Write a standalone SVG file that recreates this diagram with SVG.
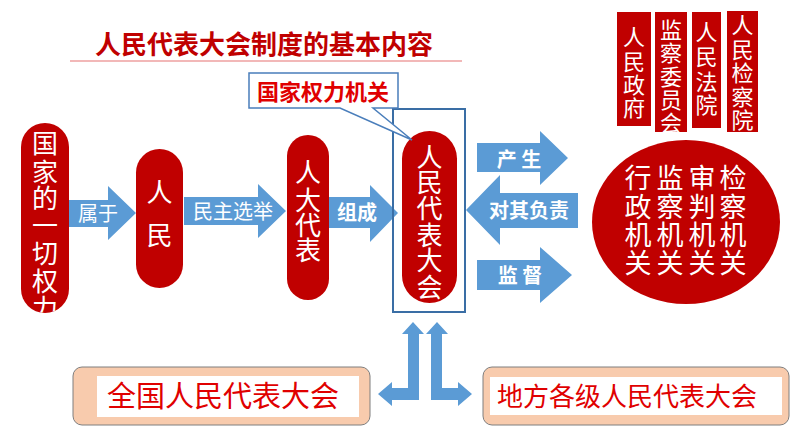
<svg xmlns="http://www.w3.org/2000/svg" width="794" height="447" viewBox="0 0 794 447">
<style>
text{font-family:"Noto Sans CJK SC","Noto Sans",sans-serif;}
.pill{fill:#c00000;}
.wt{fill:#ffffff;text-anchor:middle;}
.arr{fill:#5b9bd5;}
.lbl{fill:#ffffff;text-anchor:middle;font-size:20px;}
.b{font-weight:bold;}
.rt{fill:#e00000;text-anchor:middle;}
</style>
<defs>
<clipPath id="c1"><rect x="21" y="123" width="48" height="190" rx="24"/></clipPath>
<clipPath id="c2"><rect x="655" y="12" width="32" height="120"/></clipPath>
</defs>
<rect width="794" height="447" fill="#ffffff"/>

<g id="title">
<text x="264" y="54" font-size="26" font-weight="bold" fill="#c00000" text-anchor="middle">人民代表大会制度的基本内容</text>
<line x1="70" y1="61" x2="462" y2="61" stroke="#f2b8b8" stroke-width="2"/>
</g>

<g id="connectors">
<polygon class="arr" points="68,200 108,200 108,186 136,213 108,240 108,227 68,227"/>
<polygon class="arr" points="184,197 258,197 258,184 286,211 258,238 258,225 184,225"/>
<polygon class="arr" points="329,197 370,197 370,185 398,213 370,242 370,228 329,228"/>
<polygon class="arr" points="477,143 540,143 540,131 568,158 540,185 540,172 477,172"/>
<polygon class="arr" points="466,210 500,175 500,193 578,193 578,228 500,228 500,245"/>
<polygon class="arr" points="477,260 540,260 540,247 572,275 540,303 540,290 477,290"/>
<polygon class="arr" points="413,322 424,334 419,334 419,400 392,400 392,406 378,394 392,382 392,388 408,388 408,334 402,334"/>
<polygon class="arr" points="437,322 448,334 442,334 442,388 458,388 458,382 472,394 458,406 458,400 431,400 431,334 426,334"/>
<text class="lbl" x="98" y="221">属于</text>
<text class="lbl" x="233" y="219" font-size="22">民主选举</text>
<text class="lbl b" x="357" y="220" font-size="21">组成</text>
<text class="lbl b" x="519" y="167">产 生</text>
<text class="lbl b" x="529" y="218" font-size="22">对其负责</text>
<text class="lbl b" x="520" y="283" font-size="21">监 督</text>
</g>

<g id="n-power">
<rect class="pill" x="21" y="123" width="48" height="190" rx="24"/>
<text class="wt" font-size="26" clip-path="url(#c1)"><tspan x="45" y="153">国</tspan><tspan x="45" y="182">家</tspan><tspan x="45" y="208">的</tspan><tspan x="45" y="235">一</tspan><tspan x="45" y="263">切</tspan><tspan x="45" y="291">权</tspan><tspan x="45" y="318">力</tspan></text>
</g>

<g id="n-people">
<rect class="pill" x="136" y="149" width="47" height="139" rx="23.5"/>
<text class="wt" font-size="26"><tspan x="159.5" y="202">人</tspan><tspan x="159.5" y="245">民</tspan></text>
</g>

<g id="n-deputies">
<rect class="pill" x="287" y="135" width="42" height="165" rx="21"/>
<text class="wt" font-size="26"><tspan x="308" y="182">人</tspan><tspan x="308" y="210">大</tspan><tspan x="308" y="235">代</tspan><tspan x="308" y="260">表</tspan></text>
</g>

<g id="n-congress">
<rect x="393" y="109" width="72" height="203" fill="none" stroke="#3a6ea5" stroke-width="2"/>
<rect class="pill" x="402" y="131" width="55" height="172" rx="27.5"/>
<text class="wt" font-size="26"><tspan x="429.5" y="167">人</tspan><tspan x="429.5" y="192">民</tspan><tspan x="429.5" y="218">代</tspan><tspan x="429.5" y="245">表</tspan><tspan x="429.5" y="270">大</tspan><tspan x="429.5" y="297">会</tspan></text>
</g>

<g id="n-callout">
<path d="M249,73 H398 V108 H373 L412,140 L340,108 H249 Z" fill="#ffffff" stroke="#4a7ebb" stroke-width="1.5"/>
<text x="323" y="100" font-size="22" font-weight="bold" fill="#e00000" text-anchor="middle">国家权力机关</text>
</g>

<g id="n-organs">
<ellipse class="pill" cx="686" cy="222" rx="94" ry="82"/>
<g class="wt" font-size="27">
<text><tspan x="638" y="188">行</tspan><tspan x="638" y="217">政</tspan><tspan x="638" y="245">机</tspan><tspan x="638" y="273">关</tspan></text>
<text><tspan x="670" y="188">监</tspan><tspan x="670" y="217">察</tspan><tspan x="670" y="245">机</tspan><tspan x="670" y="273">关</tspan></text>
<text><tspan x="702" y="188">审</tspan><tspan x="702" y="217">判</tspan><tspan x="702" y="245">机</tspan><tspan x="702" y="273">关</tspan></text>
<text><tspan x="733" y="188">检</tspan><tspan x="733" y="217">察</tspan><tspan x="733" y="245">机</tspan><tspan x="733" y="273">关</tspan></text>
</g>
</g>

<g id="n-gov">
<rect class="pill" x="617" y="12" width="34" height="114"/>
<text class="wt" font-size="22"><tspan x="634" y="45">人</tspan><tspan x="634" y="70">民</tspan><tspan x="634" y="93">政</tspan><tspan x="634" y="116">府</tspan></text>
</g>
<g id="n-supervision">
<rect class="pill" x="655" y="12" width="32" height="120"/>
<text class="wt" font-size="22" clip-path="url(#c2)"><tspan x="671" y="38">监</tspan><tspan x="671" y="61">察</tspan><tspan x="671" y="85">委</tspan><tspan x="671" y="108">员</tspan><tspan x="671" y="131">会</tspan></text>
</g>
<g id="n-court">
<rect class="pill" x="692" y="12" width="29" height="116"/>
<text class="wt" font-size="22"><tspan x="706.5" y="40">人</tspan><tspan x="706.5" y="65">民</tspan><tspan x="706.5" y="90">法</tspan><tspan x="706.5" y="113">院</tspan></text>
</g>
<g id="n-procuratorate">
<rect class="pill" x="727" y="11" width="31" height="121"/>
<text class="wt" font-size="22"><tspan x="742.5" y="33">人</tspan><tspan x="742.5" y="58">民</tspan><tspan x="742.5" y="81">检</tspan><tspan x="742.5" y="105">察</tspan><tspan x="742.5" y="128">院</tspan></text>
</g>

<g id="n-npc">
<rect x="73" y="367" width="297" height="58" rx="9" fill="#f8cbad" stroke="#7f7f7f" stroke-width="1"/>
<rect x="97" y="376" width="262" height="41" fill="#ffffff"/>
<text class="rt" x="223" y="407" font-size="29">全国人民代表大会</text>
</g>
<g id="n-local">
<rect x="483" y="367" width="306" height="58" rx="9" fill="#f8cbad" stroke="#7f7f7f" stroke-width="1"/>
<rect x="490" y="377" width="292" height="38" fill="#ffffff"/>
<text class="rt" x="627" y="406" font-size="26">地方各级人民代表大会</text>
</g>
</svg>
